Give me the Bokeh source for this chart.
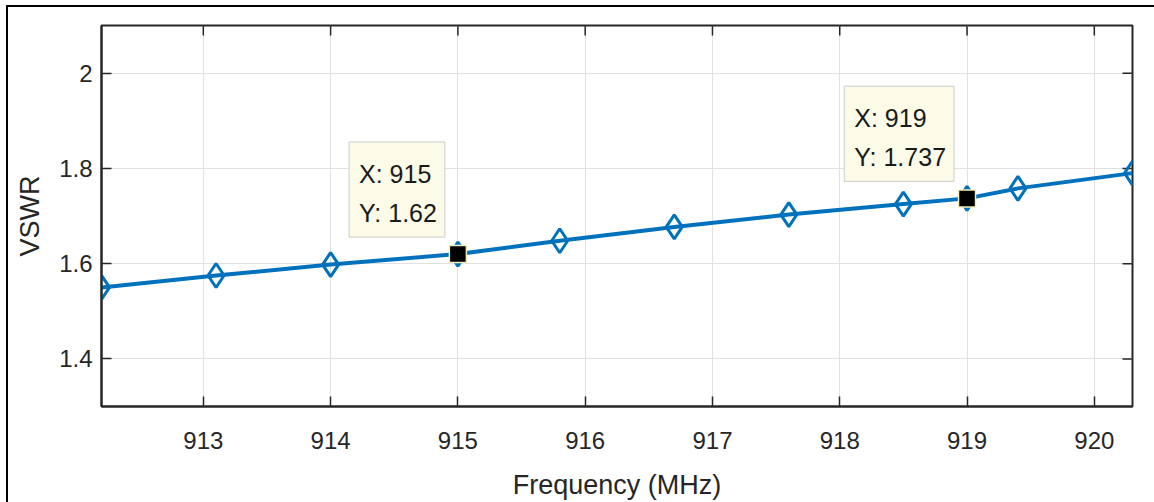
import math
from bokeh.plotting import figure
from bokeh.models import Range1d, FixedTicker, Label
from bokeh.layouts import column
from bokeh.embed import file_html
from bokeh.resources import INLINE

# ---- data ----
freq = [912.2, 913.1, 914.0, 915.0, 915.8, 916.7, 917.6, 918.5, 919.0, 919.4, 920.3]
vswr = [1.55, 1.575, 1.598, 1.62, 1.648, 1.677, 1.703, 1.725, 1.737, 1.758, 1.79]
tip_x = [915, 919]
tip_y = [1.62, 1.737]
x_ticks = [913, 914, 915, 916, 917, 918, 919, 920]
y_ticks = [1.4, 1.6, 1.8, 2.0]
y_tick_labels = ["1.4", "1.6", "1.8", "2"]
x_label = "Frequency (MHz)"
y_label = "VSWR"

FONT = "Liberation Sans"
DARK = "#262626"
BLUE = "#0072BD"

p = figure(width=1146, height=495, output_backend="svg", toolbar_location=None,
           x_range=Range1d(912.2, 920.3), y_range=Range1d(1.3, 2.1),
           min_border_left=93, min_border_right=22, min_border_top=18,
           min_border_bottom=95, background_fill_color="white",
           border_fill_color="white")
p.outline_line_color = DARK
p.outline_line_width = 2

for ax, ticks in ((p.xaxis[0], x_ticks), (p.yaxis[0], y_ticks)):
    ax.ticker = FixedTicker(ticks=ticks)
    ax.axis_line_color = DARK
    ax.axis_line_width = 2
    ax.major_tick_line_color = DARK
    ax.major_tick_line_width = 1.5
    ax.major_tick_in = 10
    ax.major_tick_out = 0
    ax.minor_tick_line_color = None
    ax.major_label_text_font = FONT
    ax.major_label_text_color = DARK
    ax.major_label_text_font_size = "24px"
    ax.axis_label_text_font = FONT
    ax.axis_label_text_font_size = "27px"
    ax.axis_label_text_font_style = "normal"
    ax.axis_label_text_color = DARK

xb = p.xaxis[0]
yl = p.yaxis[0]
xb.axis_label = x_label
yl.axis_label = y_label
xb.major_label_standoff = 25
xb.axis_label_standoff = 18
yl.major_label_standoff = 9
yl.axis_label_standoff = 11
yl.major_label_overrides = {t: l for t, l in zip(y_ticks, y_tick_labels)}

p.xgrid.ticker = FixedTicker(ticks=x_ticks)
p.ygrid.ticker = FixedTicker(ticks=y_ticks)
for g in (p.xgrid, p.ygrid):
    g.grid_line_color = "#E1E1E1"
    g.grid_line_width = 1

# inward ticks on the top and right edges of the box (half of each dash is clipped)
p.scatter(x_ticks, [p.y_range.end] * len(x_ticks), marker="dash", angle=math.pi / 2,
          size=20, line_color=DARK, line_width=1.5)
p.scatter([p.x_range.end] * len(y_ticks), y_ticks, marker="dash",
          size=20, line_color=DARK, line_width=1.5)

p.line(freq, vswr, line_color=BLUE, line_width=4)
p.scatter(freq, vswr, marker="diamond", size=24, fill_color=None,
          line_color=BLUE, line_width=3)
p.scatter(tip_x, tip_y, marker="square", size=17, fill_color="black",
          line_color="#F3EDB8", line_width=1.5)

for x, y in zip(tip_x, tip_y):
    p.add_layout(Label(x=x, y=y, text=f"X: {x}\nY: {y}", x_offset=-13, y_offset=17,
                       anchor="bottom_right", text_align="left",
                       text_font=FONT, text_font_size="25px", text_color="#1a1a1a",
                       text_line_height=1.4, padding=(10, 8, 18, 10),
                       background_fill_color="#FBFBE8", border_line_color="#CCCCCC",
                       border_line_width=1))

root = column(p, styles={"border-left": "2px solid black", "border-top": "2px solid black",
                         "margin-left": "6px", "margin-top": "5px"})

open("out.html", "w").write(file_html(root, INLINE))
